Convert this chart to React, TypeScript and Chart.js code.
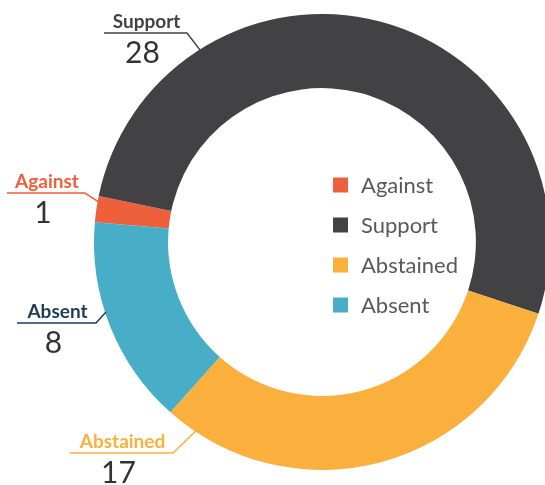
import React, { useEffect, useRef } from "react";
import { Chart, registerables } from "chart.js";

Chart.register(...registerables);

const categories = ["Against", "Support", "Abstained", "Absent"];
const votes = [1, 28, 17, 8];
const sliceColors = ["#EE5F3B", "#424244", "#FBAF3D", "#48AEC8"];
const labelColors = ["#EE5F3B", "#424244", "#FBAF3D", "#1E3B58"];

// callout layout (line y, line x-range, where on the arc the leader touches)
const callouts = [
  { x1: 7, x2: 85, y: 193, frac: 0.78 },
  { x1: 104, x2: 187, y: 33, frac: 0.246 },
  { x1: 70, x2: 173, y: 453, frac: 0.93 },
  { x1: 17, x2: 96, y: 323, frac: 0.57 },
];

const FONT = "Lato, 'Open Sans', sans-serif";

const calloutPlugin = {
  id: "callouts",
  afterDraw(chart: any) {
    const ctx = chart.ctx;
    const meta = chart.getDatasetMeta(0);
    ctx.save();
    meta.data.forEach((arc: any, i: number) => {
      const p = arc.getProps(["x", "y", "startAngle", "endAngle", "outerRadius"], true);
      const c = callouts[i];
      const a = p.startAngle + c.frac * (p.endAngle - p.startAngle);
      const ax = p.x + Math.cos(a) * (p.outerRadius - 1);
      const ay = p.y + Math.sin(a) * (p.outerRadius - 1);
      ctx.strokeStyle = labelColors[i];
      ctx.lineWidth = 1.5;
      ctx.beginPath();
      ctx.moveTo(c.x1, c.y);
      ctx.lineTo(c.x2, c.y);
      ctx.lineTo(ax, ay);
      ctx.stroke();
      const cx = (c.x1 + c.x2) / 2;
      ctx.textAlign = "center";
      ctx.textBaseline = "alphabetic";
      ctx.fillStyle = labelColors[i];
      ctx.font = `bold 19px ${FONT}`;
      ctx.fillText(categories[i], cx + 1, c.y - 5);
      ctx.fillStyle = "#333333";
      ctx.font = `30px ${FONT}`;
      ctx.fillText(String(votes[i]), cx - 3, c.y + 30);
    });
    // center legend
    const lx = 333;
    const ly0 = 185;
    const step = 40;
    categories.forEach((name, i) => {
      const y = ly0 + i * step;
      ctx.fillStyle = sliceColors[i];
      ctx.fillRect(lx, y - 7.5, 15, 15);
      ctx.fillStyle = "#58595B";
      ctx.font = `22px ${FONT}`;
      ctx.textAlign = "left";
      ctx.textBaseline = "middle";
      ctx.fillText(name, lx + 28, y + 1);
    });
    ctx.restore();
  },
};

export default function App() {
  const ref = useRef<HTMLCanvasElement | null>(null);
  useEffect(() => {
    document.body.style.margin = "0";
    const chart = new Chart(ref.current as HTMLCanvasElement, {
      type: "doughnut",
      data: {
        labels: categories,
        datasets: [
          {
            data: votes,
            backgroundColor: sliceColors,
            borderWidth: 0,
            radius: 228,
          } as any,
        ],
      },
      options: {
        animation: false,
        responsive: false,
        rotation: 275,
        cutout: "67.5%",
        layout: { padding: { left: 102, right: 3, top: 14, bottom: 15 } },
        plugins: {
          legend: { display: false },
          tooltip: { enabled: false },
        },
      },
      plugins: [calloutPlugin],
    });
    return () => chart.destroy();
  }, []);
  return (
    <div style={{ position: "absolute", left: 0, top: 0, width: 545, height: 485 }}>
      <canvas ref={ref} width={545} height={485} style={{ width: 545, height: 485 }} />
    </div>
  );
}
